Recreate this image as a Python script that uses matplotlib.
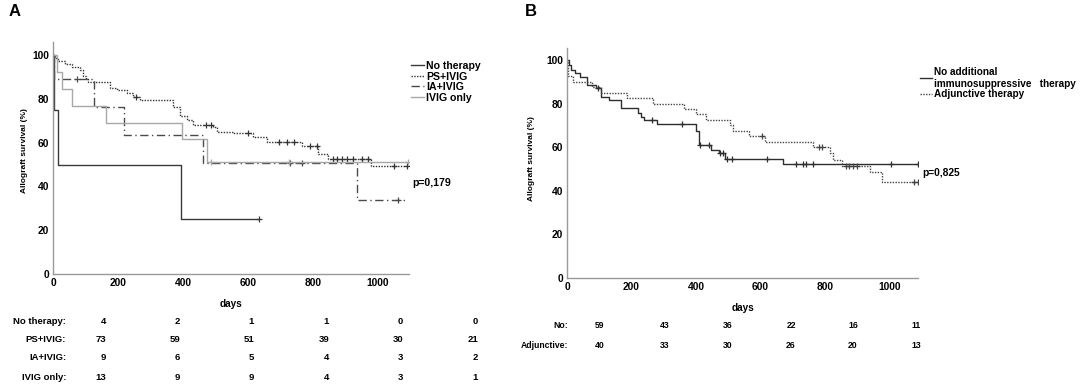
import numpy as np
import matplotlib
matplotlib.use("Agg")
import matplotlib.pyplot as plt

plt.rcParams['font.family'] = ['Liberation Sans', 'DejaVu Sans']
plt.rcParams['font.weight'] = 'bold'

# --- data: panel A (Kaplan-Meier steps) ---
no_ther_t = [0, 2, 15, 395]
no_ther_s = [100, 75, 50, 25]
no_ther_c = [633]
no_ther_end = 633

ps_t = [0, 5, 16, 37, 57, 83, 93, 101, 109, 175, 196, 227, 247, 268, 370, 391,
        411, 432, 493, 504, 555, 616, 657, 765, 816, 847, 978]
ps_s = [100, 98.6, 97.3, 95.9, 94.5, 93.2, 90.4, 89, 87.7, 85.2, 84, 82.5, 81,
        79.5, 76.4, 72, 70.3, 68, 67.3, 65, 64.2, 62.7, 60.4, 58.5, 55, 52.5, 49.5]
ps_c = [255, 470, 485, 600, 695, 720, 740, 790, 812, 862, 875, 890, 905, 923,
        950, 968, 1050, 1088]
ps_end = 1092

ia_t = [0, 3, 126, 218, 462, 936]
ia_s = [100, 88.9, 76.2, 63.5, 50.8, 33.9]
ia_c = [73, 729, 765, 1060]
ia_end = 1092

ivig_t = [0, 12, 27, 57, 162, 398, 473]
ivig_s = [100, 92.3, 84.6, 76.9, 69.2, 61.5, 51.3]
ivig_c = [485, 725, 1092]
ivig_end = 1092

# --- data: panel B ---
noadd_t = [0, 5, 13, 24, 40, 62, 89, 105, 130, 168, 220, 230, 240, 278, 400,
           408, 445, 470, 490, 670]
noadd_s = [100, 97.7, 95.4, 93.9, 92.1, 88.5, 87, 83.2, 81.7, 77.9, 75.6, 74,
           72.5, 70.5, 67.2, 61, 58.8, 57.3, 54.7, 52.4]
noadd_c = [95, 262, 355, 412, 440, 475, 485, 495, 510, 620, 710, 730, 740, 763,
           1005, 1088]
noadd_end = 1088

adj_t = [0, 2, 18, 78, 105, 187, 268, 362, 400, 432, 505, 515, 565, 615, 763,
         816, 825, 852, 940, 976]
adj_s = [100, 92.5, 90, 87.5, 85, 82.5, 80, 77.5, 75, 72.5, 70, 67.5, 65, 62.4,
         60, 57.5, 54, 51.5, 48.8, 44.2]
adj_c = [605, 780, 790, 865, 875, 885, 900, 1075, 1088]
adj_end = 1088

# numbers at risk
risk_a_labels = ['No therapy:', 'PS+IVIG:', 'IA+IVIG:', 'IVIG only:']
risk_a = [[4, 2, 1, 1, 0, 0],
          [73, 59, 51, 39, 30, 21],
          [9, 6, 5, 4, 3, 2],
          [13, 9, 9, 4, 3, 1]]
risk_b_labels = ['No:', 'Adjunctive:']
risk_b = [[59, 43, 36, 22, 16, 11],
          [40, 33, 30, 26, 20, 13]]

xticks = [0, 200, 400, 600, 800, 1000]
yticks = [0, 20, 40, 60, 80, 100]

W, H = 1084, 384
fig = plt.figure(figsize=(W / 100, H / 100), dpi=100)


def fx(x):
    return x / W


def fy(y):
    return 1 - y / H


def km(ax, t, s, cens, end, color, ls, lw=1.0):
    tt = list(t) + [end]
    ss = list(s) + [s[-1]]
    ax.step(tt, ss, where='post', color=color, linestyle=ls, lw=lw)
    idx = np.searchsorted(t, cens, side='right') - 1
    ax.plot(cens, np.array(s)[idx], linestyle='none', marker='+', ms=4,
            mew=0.9, color=color)
    return ax.lines[-2]


def style(ax, xmax, ymax):
    ax.set_xlim(0, xmax)
    ax.set_ylim(0, ymax)
    ax.set_xticks(xticks)
    ax.set_yticks(yticks)
    for sp in ['top', 'right']:
        ax.spines[sp].set_visible(False)
    for sp in ['left', 'bottom']:
        ax.spines[sp].set_color('#999999')
        ax.spines[sp].set_linewidth(1.0)
    ax.tick_params(length=0, labelsize=7.4, pad=3)
    for lab in ax.get_xticklabels() + ax.get_yticklabels():
        lab.set_fontweight('bold')


# ---------- panel A ----------
axA = fig.add_axes([fx(53), fy(274), fx(409) - fx(53), fy(42) - fy(274)])
h1 = km(axA, no_ther_t, no_ther_s, no_ther_c, no_ther_end, '#3a3a3a', '-')
h2 = km(axA, ps_t, ps_s, ps_c, ps_end, '#333333', (0, (1, 1)))
h3 = km(axA, ia_t, ia_s, ia_c, ia_end, '#4a4a4a', (0, (6, 2.5, 1, 2.5)))
h4 = km(axA, ivig_t, ivig_s, ivig_c, ivig_end, '#a8a8a8', '-')
style(axA, 1095, 106)
axA.set_xlabel('days', fontsize=7.2, fontweight='bold', labelpad=8)
axA.set_ylabel('Allograft survival (%)', fontsize=6, fontweight='bold')
axA.yaxis.set_label_coords(-0.07, 0.53)
axA.legend([h1, h2, h3, h4], ['No therapy', 'PS+IVIG', 'IA+IVIG', 'IVIG only'],
           loc='upper left', bbox_to_anchor=(fx(411), fy(61)),
           bbox_transform=fig.transFigure, frameon=False, fontsize=7.6,
           handlelength=1.2, handletextpad=0.2, labelspacing=0.05,
           borderpad=0, borderaxespad=0)
fig.text(fx(412), fy(183), 'p=0,179', fontsize=7.6, fontweight='bold',
         va='center', ha='left')
fig.text(fx(9), fy(12), 'A', fontsize=12, fontweight='bold', va='center')

colA = [106, 180, 254, 329, 403, 478]
rowA = [322, 340, 358, 377]
for lab, vals, y in zip(risk_a_labels, risk_a, rowA):
    fig.text(fx(66), fy(y), lab, fontsize=6.8, fontweight='bold',
             ha='right', va='center')
    for v, x in zip(vals, colA):
        fig.text(fx(x), fy(y), str(v), fontsize=6.8, fontweight='bold',
                 ha='right', va='center')

# ---------- panel B ----------
axB = fig.add_axes([fx(567), fy(278), fx(918) - fx(567), fy(48) - fy(278)])
g1 = km(axB, noadd_t, noadd_s, noadd_c, noadd_end, '#2e2e2e', '-')
g2 = km(axB, adj_t, adj_s, adj_c, adj_end, '#444444', (0, (1, 1)))
style(axB, 1088, 105.5)
axB.set_xlabel('days', fontsize=7.2, fontweight='bold', labelpad=8)
axB.set_ylabel('Allograft survival (%)', fontsize=6, fontweight='bold')
axB.yaxis.set_label_coords(-0.09, 0.52)
axB.legend([g1, g2], ['No additional\nimmunosuppressive   therapy',
                      'Adjunctive therapy'],
           loc='upper left', bbox_to_anchor=(fx(920), fy(67)),
           bbox_transform=fig.transFigure, frameon=False, fontsize=7.2,
           handlelength=1.2, handletextpad=0.2, labelspacing=0.05,
           borderpad=0, borderaxespad=0)
fig.text(fx(922), fy(173), 'p=0,825', fontsize=7.4, fontweight='bold',
         va='center', ha='left')
fig.text(fx(525), fy(12), 'B', fontsize=12, fontweight='bold', va='center')

colB = [600, 665, 728, 791, 853, 916]
rowB = [326, 346]
for lab, vals, y in zip(risk_b_labels, risk_b, rowB):
    fig.text(fx(568), fy(y), lab, fontsize=6.2, fontweight='bold',
             ha='right', va='center')
    for v, x in zip(vals, colB):
        fig.text(fx(x), fy(y), str(v), fontsize=6.2, fontweight='bold',
                 ha='center', va='center')

fig.savefig('out.png', dpi=100)
